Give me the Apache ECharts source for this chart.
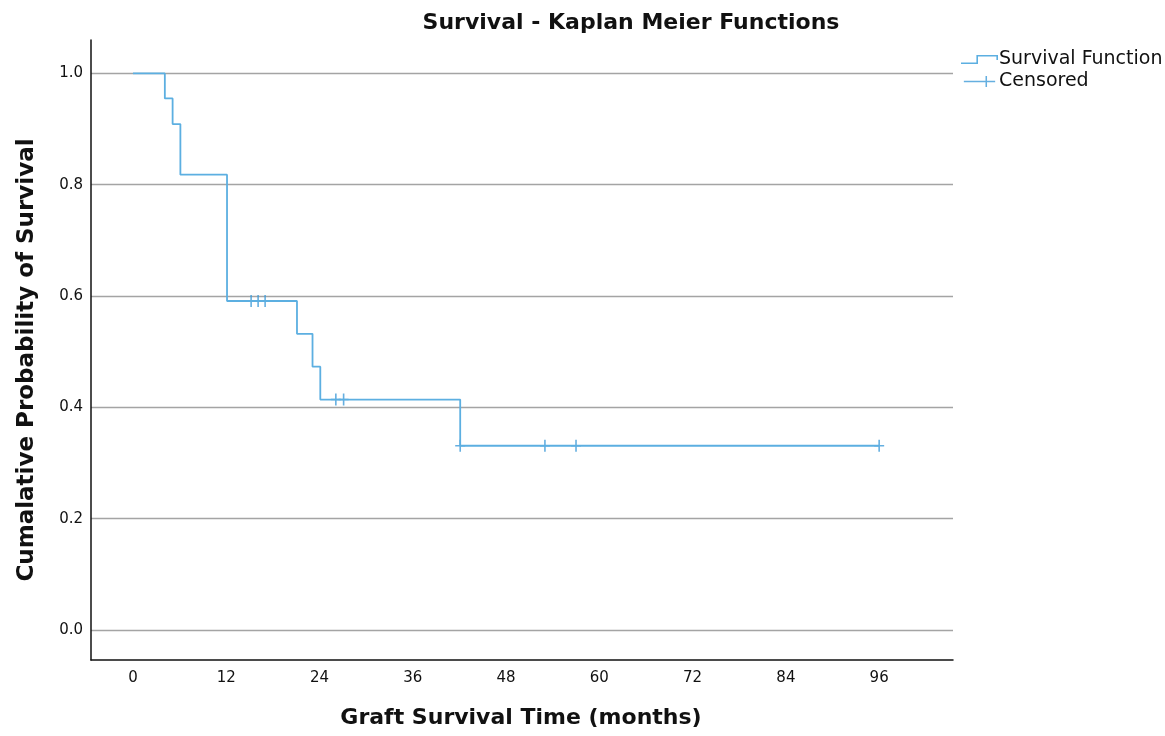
<!DOCTYPE html>
<html>
<head>
<meta charset="utf-8">
<script src="https://cdn.jsdelivr.net/npm/echarts@6/dist/echarts.min.js"></script>
<style>html,body{margin:0;padding:0;background:#fff}#c{width:1165px;height:736px}</style>
</head>
<body>
<div id="c"></div>
<script>
// Kaplan-Meier step points (time in months, survival probability)
const stepTimes = [0, 4.1, 5.1, 6.1, 12.1, 21.1, 23.1, 24.1, 42.1, 96.0];
const stepSurvival = [1.0, 0.955, 0.909, 0.818, 0.591, 0.532, 0.473, 0.414, 0.331, 0.331];
// Censored observations
const censorTimes = [15.2, 16.1, 17.0, 26.1, 27.1, 42.1, 53.0, 57.0, 96.0];
const censorSurvival = [0.591, 0.591, 0.591, 0.414, 0.414, 0.331, 0.331, 0.331, 0.331];
// Tick labels
const xTicks = [0, 12, 24, 36, 48, 60, 72, 84, 96];
const yTicks = [0, 0.2, 0.4, 0.6, 0.8, 1.0];

const FONT = 'DejaVu Sans';
const lineColor = '#5cafe1';
const crossColor = '#3f9bd8';
const plusPath = 'path://M4.2,0h1.6v12h-1.6zM0,5.2h10v1.6h-10z';
const stepIcon = 'path://M0,7.4h17v1.6h-17zM15.4,0h1.6v9h-1.6zM15.4,0h21.6v1.6h-21.6zM35.4,0h1.6v5h-1.6z';
const censIcon = 'path://M0,5.6h37v1.8h-37zM25.6,0h1.8v13h-1.8z';

const chart = echarts.init(document.getElementById('c'));
chart.setOption({
  animation: false,
  backgroundColor: '#fff',
  graphic: [
    {type: 'text', x: 631, y: 23, style: {text: 'Survival - Kaplan Meier Functions',
      font: 'bold 22px "' + FONT + '"', fill: '#111', align: 'center', verticalAlign: 'middle'}},
    {type: 'text', x: 521, y: 718, style: {text: 'Graft Survival Time (months)',
      font: 'bold 22px "' + FONT + '"', fill: '#111', align: 'center', verticalAlign: 'middle'}},
    {type: 'text', x: 27, y: 360, rotation: Math.PI / 2, style: {text: 'Cumalative Probability of Survival',
      font: 'bold 23px "' + FONT + '"', fill: '#111', align: 'center', verticalAlign: 'middle'}}
  ],
  legend: {
    orient: 'vertical', left: 956, top: 45, itemGap: 3,
    itemWidth: 37, itemHeight: 11,
    textStyle: {fontFamily: FONT, fontSize: 19, color: '#111', padding: [0,0,0,-4]},
    data: [
      {name: 'Survival Function', icon: stepIcon, itemStyle: {color: lineColor}},
      {name: 'Censored', icon: censIcon, itemStyle: {color: crossColor}}
    ]
  },
  grid: {left: 91, right: 212, top: 40, bottom: 76},
  xAxis: {
    type: 'value', min: -5.4, max: 105.5,
    axisLine: {onZero: false, lineStyle: {color: '#111', width: 1.5}},
    axisTick: {show: false, customValues: xTicks},
    axisLabel: {customValues: xTicks, margin: 11, fontFamily: FONT, fontSize: 15, color: '#111'},
    splitLine: {show: false}
  },
  yAxis: {
    type: 'value', min: -0.054, max: 1.06,
    axisLine: {show: true, onZero: false, lineStyle: {color: '#111', width: 1.5}},
    axisTick: {show: false, customValues: yTicks},
    axisLabel: {customValues: yTicks, margin: 8, fontFamily: FONT, fontSize: 15, color: '#111',
      formatter: v => v.toFixed(1)},
    splitLine: {show: true, lineStyle: {color: '#a4a4a4', width: 1.4}}
  },
  series: [
    {
      name: 'Survival Function', type: 'line', step: 'end',
      data: stepTimes.map((t, i) => [t, stepSurvival[i]]),
      showSymbol: false, symbol: 'none',
      lineStyle: {color: lineColor, width: 1.8},
      itemStyle: {color: lineColor}
    },
    {
      name: 'Censored', type: 'scatter',
      data: censorTimes.map((t, i) => [t, censorSurvival[i]]),
      symbol: plusPath, symbolSize: [10, 12],
      itemStyle: {color: crossColor}
    }
  ]
});
</script>
</body>
</html>
